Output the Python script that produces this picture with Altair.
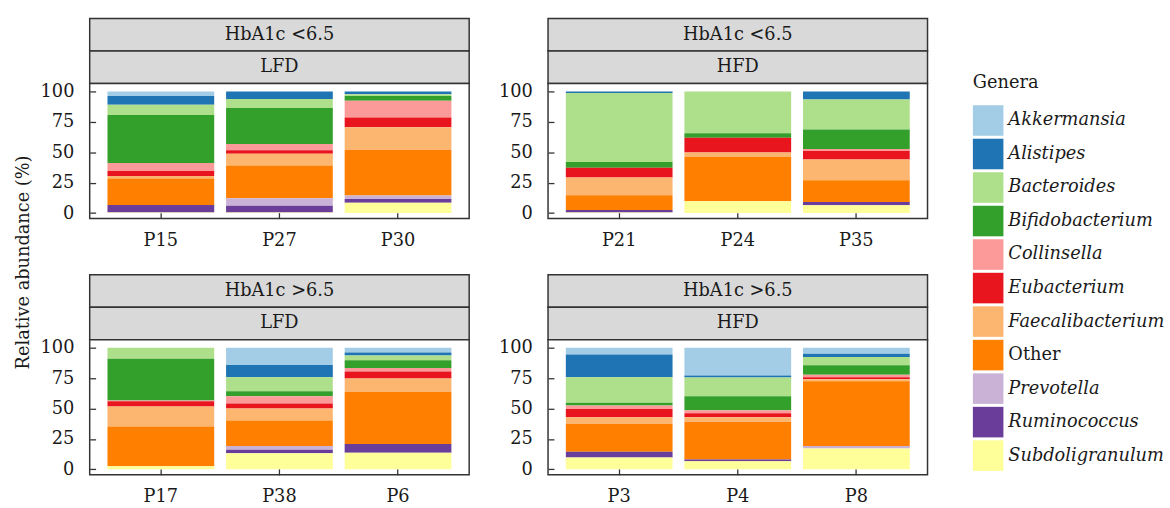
import altair as alt
import pandas as pd

FONT = "DejaVu Serif"
TXT = "#1a1a1a"
EDGE = "#333333"

genera = ["Akkermansia", "Alistipes", "Bacteroides", "Bifidobacterium", "Collinsella",
          "Eubacterium", "Faecalibacterium", "Other", "Prevotella", "Ruminococcus",
          "Subdoligranulum"]
colors = ["#a3cde6", "#1f74b4", "#aedf8a", "#33a02c", "#fb9a99",
          "#e8151f", "#fdb670", "#ff7f00", "#cab2d6", "#6a3d9a", "#ffff99"]

# values per sample, in the order of `genera`
P15 = [3.8, 7.2, 8.3, 39.6, 6.4, 4.3, 2.0, 21.7, 0.0, 6.2, 0.5]
P27 = [0.0, 6.2, 7.5, 29.5, 5.1, 2.9, 9.7, 26.8, 6.2, 5.6, 0.5]
P30 = [0.0, 2.4, 1.3, 4.0, 13.7, 8.0, 18.5, 37.7, 2.9, 2.9, 8.6]
P21 = [0.0, 1.3, 56.8, 4.6, 0.0, 8.0, 14.7, 12.0, 0.0, 2.1, 0.5]
P24 = [0.0, 0.0, 34.3, 3.8, 0.0, 12.0, 3.5, 36.6, 0.0, 0.0, 9.8]
P35 = [0.0, 6.7, 24.5, 16.1, 1.6, 7.0, 17.0, 18.0, 0.0, 2.7, 6.4]
P17 = [0.0, 0.0, 9.0, 34.3, 0.8, 4.2, 16.4, 32.7, 0.0, 0.0, 2.6]
P38 = [14.2, 10.0, 11.6, 4.0, 6.1, 4.0, 10.0, 20.8, 3.2, 2.9, 13.2]
P6 = [4.0, 2.4, 4.0, 6.3, 2.9, 5.8, 10.8, 43.0, 0.0, 7.1, 13.7]
P3 = [5.5, 18.7, 21.1, 2.1, 2.9, 6.9, 5.5, 22.8, 0.0, 4.7, 9.8]
P4 = [22.9, 1.6, 15.3, 11.6, 2.4, 3.4, 3.7, 30.9, 0.0, 1.6, 6.6]
P8 = [5.0, 2.6, 6.9, 7.7, 2.1, 1.6, 1.6, 53.2, 2.1, 0.0, 17.2]

hba_labels = ["HbA1c <6.5", "HbA1c >6.5"]
diet_labels = ["LFD", "HFD"]
y_ticks = [0, 25, 50, 75, 100]

W = 385      # panel width
SH = 33      # strip height
BH = 137     # bar area height
FS = 18

legend = alt.Legend(
    title="Genera", orient="none", legendX=973, legendY=57, padding=0,
    titleFont=FONT, titleFontSize=FS, titleFontWeight="normal", titleColor=TXT,
    titlePadding=13,
    labelFont=FONT, labelFontSize=FS, labelColor=TXT, labelOffset=5, labelLimit=400,
    labelFontStyle=alt.ExprRef(expr="datum.label == 'Other' ? 'normal' : 'italic'"),
    symbolType="square", symbolSize=961, symbolStrokeWidth=0, symbolOpacity=1,
    rowPadding=3,
)


def strip(text):
    return alt.Chart(pd.DataFrame({"t": [text]})).mark_text(
        font=FONT, fontSize=FS, color=TXT
    ).encode(text="t:N").properties(
        width=W, height=SH,
        view=alt.ViewBackground(fill="#d9d9d9", stroke=EDGE, strokeWidth=1.5),
    )


def panel(hba, diet, samples, values):
    rows = []
    for s, vals in zip(samples, values):
        for i, (g, v) in enumerate(zip(genera, vals)):
            rows.append({"sample": s, "genus": g, "value": v, "ord": len(genera) - 1 - i})
    df = pd.DataFrame(rows)
    bars = alt.Chart(df).mark_bar().encode(
        x=alt.X("sample:N", sort=samples,
                scale=alt.Scale(paddingInner=0.1, paddingOuter=0.15),
                axis=alt.Axis(title=None, labelAngle=0, labelFont=FONT, labelFontSize=FS,
                              labelColor=TXT, labelPadding=13, tickSize=6, tickColor=EDGE,
                              tickWidth=1.3, offset=-6, domain=False, grid=False, zindex=1)),
        y=alt.Y("value:Q", stack="zero",
                scale=alt.Scale(domain=[-4.5, 106.5], nice=False, zero=False),
                axis=alt.Axis(title=None, values=y_ticks, labelFont=FONT, labelFontSize=FS,
                              labelColor=TXT, labelPadding=16, tickSize=6, tickColor=EDGE,
                              tickWidth=1.3, offset=-6, domain=False, grid=False, zindex=1)),
        color=alt.Color("genus:N", scale=alt.Scale(domain=genera, range=colors), legend=legend),
        order=alt.Order("ord:Q", sort="ascending"),
    ).properties(
        width=W, height=BH,
        view=alt.ViewBackground(fill="white", stroke=EDGE, strokeWidth=1.5),
    )
    return alt.vconcat(strip(hba), strip(diet), bars, spacing=0, bounds="flush")


row1 = alt.hconcat(
    panel(hba_labels[0], diet_labels[0], ["P15", "P27", "P30"], [P15, P27, P30]),
    panel(hba_labels[0], diet_labels[1], ["P21", "P24", "P35"], [P21, P24, P35]),
    spacing=27,
)
row2 = alt.hconcat(
    panel(hba_labels[1], diet_labels[0], ["P17", "P38", "P6"], [P17, P38, P6]),
    panel(hba_labels[1], diet_labels[1], ["P3", "P4", "P8"], [P3, P4, P8]),
    spacing=27,
)
grid = alt.vconcat(row1, row2, spacing=24)

ytitle = alt.Chart(pd.DataFrame({"t": ["Relative abundance (%)"]})).mark_text(
    font=FONT, fontSize=FS, angle=270, color=TXT
).encode(text="t:N").properties(
    width=20, height=495,
    view=alt.ViewBackground(fill="transparent", stroke="transparent"),
)

chart = alt.hconcat(ytitle, grid, spacing=4).properties(
    padding={"left": 13, "top": 14, "right": 5, "bottom": 5},
    background="white",
).configure(font=FONT)

chart.save("out.html", embed_options={"renderer": "svg", "actions": False})
